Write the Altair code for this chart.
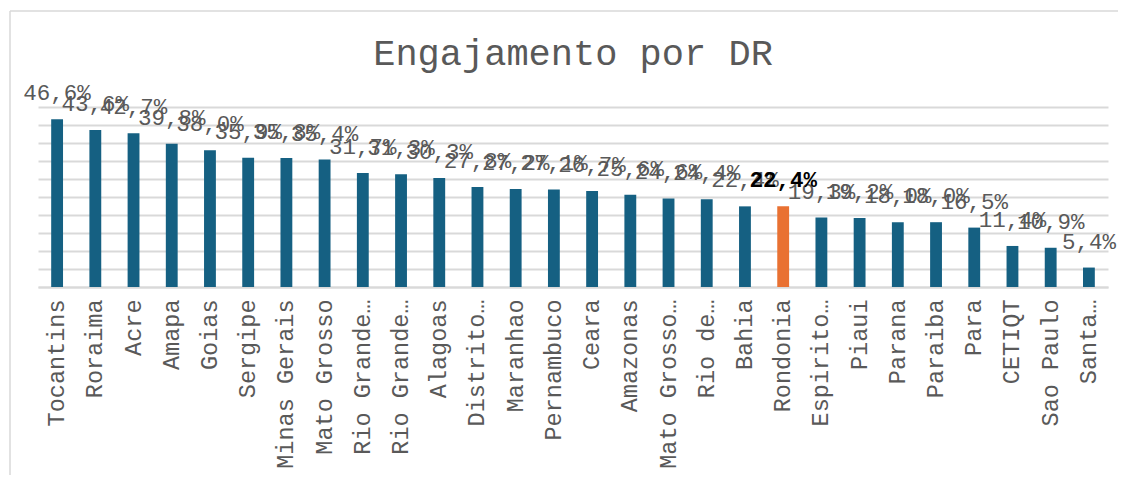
import json
import altair as alt
import pandas as pd

categories = ["Tocantins", "Roraima", "Acre", "Amapa", "Goias", "Sergipe",
              "Minas Gerais", "Mato Grosso", "Rio Grande do Sul", "Rio Grande do Norte",
              "Alagoas", "Distrito Federal", "Maranhao", "Pernambuco", "Ceara",
              "Amazonas", "Mato Grosso do Sul", "Rio de Janeiro", "Bahia", "Rondonia",
              "Espirito Santo", "Piaui", "Parana", "Paraiba", "Para", "CETIQT",
              "Sao Paulo", "Santa Catarina"]
tick_labels = ["Tocantins", "Roraima", "Acre", "Amapa", "Goias", "Sergipe",
               "Minas Gerais", "Mato Grosso", "Rio Grande…", "Rio Grande…",
               "Alagoas", "Distrito…", "Maranhao", "Pernambuco", "Ceara",
               "Amazonas", "Mato Grosso…", "Rio de…", "Bahia", "Rondonia",
               "Espirito…", "Piaui", "Parana", "Paraiba", "Para", "CETIQT",
               "Sao Paulo", "Santa…"]
values = [46.6, 43.6, 42.7, 39.8, 38.0, 35.9, 35.8, 35.4, 31.7, 31.3, 30.3,
          27.8, 27.2, 27.1, 26.7, 25.6, 24.6, 24.4, 22.4, 22.4, 19.3, 19.2,
          18.0, 18.0, 16.5, 11.4, 10.9, 5.4]
highlight = "Rondonia"
grid_values = [0, 5, 10, 15, 20, 25, 30, 35, 40, 45, 50]
title_text = "Engajamento por DR"

BLUE = "#156082"
ORANGE = "#E97132"
FONT = "Liberation Mono"
GRAY = "#595959"

df = pd.DataFrame({"idx": list(range(len(categories))), "dr": categories, "value": values})
df["label"] = [f"{v:.1f}".replace(".", ",") + "%" for v in values]
df["hl"] = df["dr"] == highlight

label_expr = json.dumps(tick_labels, ensure_ascii=False) + "[datum.value]"

x_enc = alt.X("idx:O",
              scale=alt.Scale(paddingInner=0.69, paddingOuter=0.345),
              axis=alt.Axis(title=None, labelExpr=label_expr, labelAngle=270,
                            labelAlign="right", labelBaseline="middle",
                            labelFont=FONT, labelFontSize=23.5, labelColor=GRAY,
                            labelPadding=12, ticks=False, domain=True,
                            domainColor="#d9d9d9", domainWidth=2, labelLimit=400))
y_enc = alt.Y("value:Q", scale=alt.Scale(domain=[0, 50], nice=False),
              axis=alt.Axis(title=None, values=grid_values, labels=False, ticks=False,
                            domain=False, grid=True, gridColor="#d9d9d9", gridWidth=2))

base = alt.Chart(df)

bars = base.mark_bar().encode(
    x=x_enc, y=y_enc,
    color=alt.condition(alt.datum.hl, alt.value(ORANGE), alt.value(BLUE)),
)

labels = base.transform_filter(~alt.datum.hl).mark_text(
    dy=-19, baseline="alphabetic", align="center", font=FONT, fontSize=22.5,
    color=GRAY).encode(x=x_enc, y=y_enc, text="label:N")

bold = base.transform_filter(alt.datum.hl).mark_text(
    dy=-19, baseline="alphabetic", align="center", font=FONT, fontSize=22.5,
    fontWeight="bold", color="#000000").encode(x=x_enc, y=y_enc, text="label:N")

frame_data = alt.Data(values=[{"t": title_text}])
left_border = alt.Chart(frame_data).mark_rule(color="#d9d9d9", strokeWidth=1.5).encode(
    x=alt.value(-28), y=alt.value(-96), y2=alt.value(380))
top_border = alt.Chart(frame_data).mark_rule(color="#d9d9d9", strokeWidth=1.5).encode(
    x=alt.value(-28), x2=alt.value(1100), y=alt.value(-96))
title = alt.Chart(frame_data).mark_text(
    font=FONT, fontSize=37, color=GRAY, align="center", baseline="alphabetic").encode(
    x=alt.value(535), y=alt.value(-42), text="t:N")

chart = alt.layer(left_border, top_border, title, bars, labels, bold).properties(
    width=1070, height=180,
    padding={"left": 30, "top": 99, "right": 10, "bottom": 188},
    autosize=alt.AutoSizeParams(type="none"),
).configure_view(stroke=None)

chart.save("out.html", embed_options={"renderer": "svg", "actions": False})
